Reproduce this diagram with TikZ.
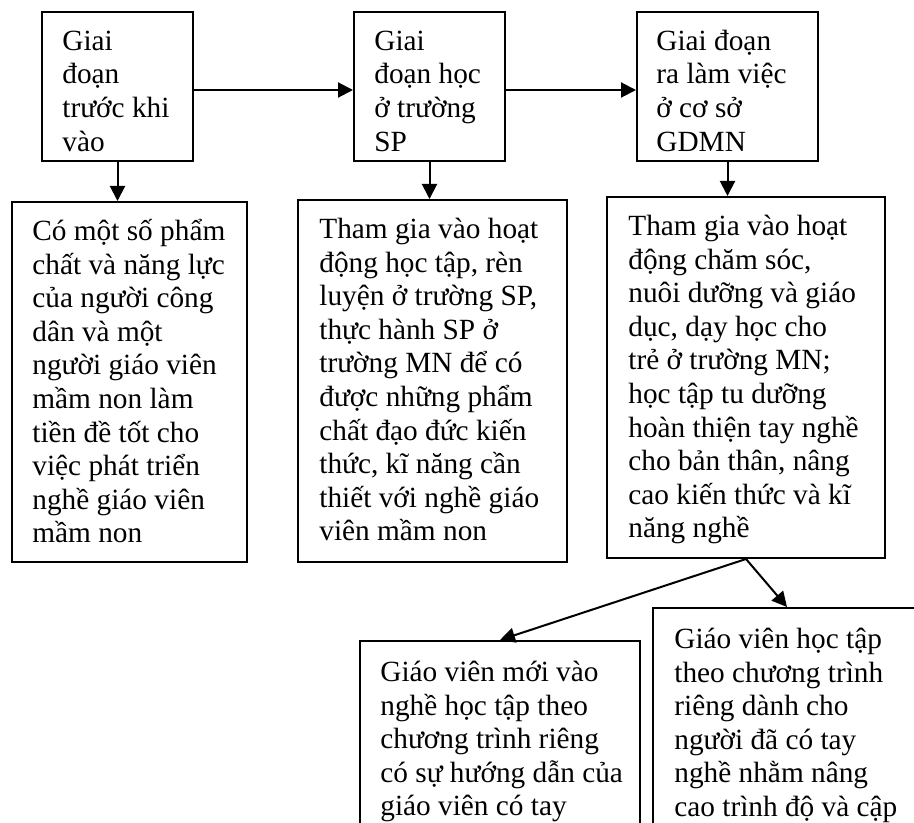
\documentclass[tikz,border=0pt]{standalone}
\usepackage{fontspec}
\setmainfont{Liberation Serif}
\usetikzlibrary{arrows.meta,fit}
% invisible rule that fixes the height of a first line (15pt above its baseline)
\newcommand\lineopen{\rule{0pt}{15pt}}
\begin{document}
\begin{tikzpicture}[x=0.5pt,y=-0.5pt,
  box/.style={draw, line width=1pt, inner sep=0pt, fit={#1}},
  txt/.style={anchor=north west, inner sep=0pt, align=left,
    font=\fontsize{14.65}{16.8}\selectfont},
  arr/.style={line width=1pt, -{Triangle[length=7.5pt,width=7.5pt]}}]
\useasboundingbox (0,0) rectangle (914,823);
\clip (0,0) rectangle (914,823);

% stages (text nodes are placed 30 units above their first baseline)
\node[box={(42,12) (193,161)}] (b1) {};
\node[box={(354,12) (505,161)}] (b2) {};
\node[box={(637,12) (818,161)}] (b3) {};
\node[txt] (t1) at (62,20) {\lineopen Giai\\đoạn\\trước khi\\vào};
\node[txt] (t2) at (374,20) {\lineopen Giai\\đoạn học\\ở trường\\SP};
\node[txt] (t3) at (656,20) {\lineopen Giai đoạn\\ra làm việc\\ở cơ sở\\GDMN};

% descriptions of each stage
\node[box={(12,202) (247,562)}] (ba) {};
\node[box={(298,200) (567,562)}] (bb) {};
\node[box={(607,197) (885,558)}] (bc) {};
\node[txt] (ta) at (32,210) {\lineopen Có một số phẩm\\chất và năng lực\\của người công\\dân và một\\người giáo viên\\mầm non làm\\tiền đề tốt cho\\việc phát triển\\nghề giáo viên\\mầm non};
\node[txt] (tb) at (319,208) {\lineopen Tham gia vào hoạt\\động học tập, rèn\\luyện ở trường SP,\\thực hành SP ở\\trường MN để có\\được những phẩm\\chất đạo đức kiến\\thức, kĩ năng cần\\thiết với nghề giáo\\viên mầm non};
\node[txt] (tc) at (628,205) {\lineopen Tham gia vào hoạt\\động chăm sóc,\\nuôi dưỡng và giáo\\dục, dạy học cho\\trẻ ở trường MN;\\học tập tu dưỡng\\hoàn thiện tay nghề\\cho bản thân, nâng\\cao kiến thức và kĩ\\năng nghề};

% two training paths
\node[box={(360,641) (640,870)}] (bd) {};
\node[box={(653,608) (921,870)}] (be) {};
\node[txt] (td) at (380,651) {\lineopen Giáo viên mới vào\\nghề học tập theo\\chương trình riêng\\có sự hướng dẫn của\\giáo viên có tay};
\node[txt] (te) at (674,618) {\lineopen Giáo viên học tập\\theo chương trình\\riêng dành cho\\người đã có tay\\nghề nhằm nâng\\cao trình độ và cập};

% connectors
\draw[arr] ([yshift=-1.75pt]b1.east) -- ([yshift=-1.75pt]b2.west);
\draw[arr] ([yshift=-1.75pt]b2.east) -- ([yshift=-1.75pt]b3.west);
\draw[arr] (b1.south) -- (b1.south |- ba.north);
\draw[arr] (b2.south) -- (b2.south |- bb.north);
\draw[arr] (b3.south) -- (b3.south |- bc.north);
\draw[arr] (bc.south) -- (bd.north);
\draw[arr] (bc.south) -- (be.north);
\end{tikzpicture}
\end{document}
